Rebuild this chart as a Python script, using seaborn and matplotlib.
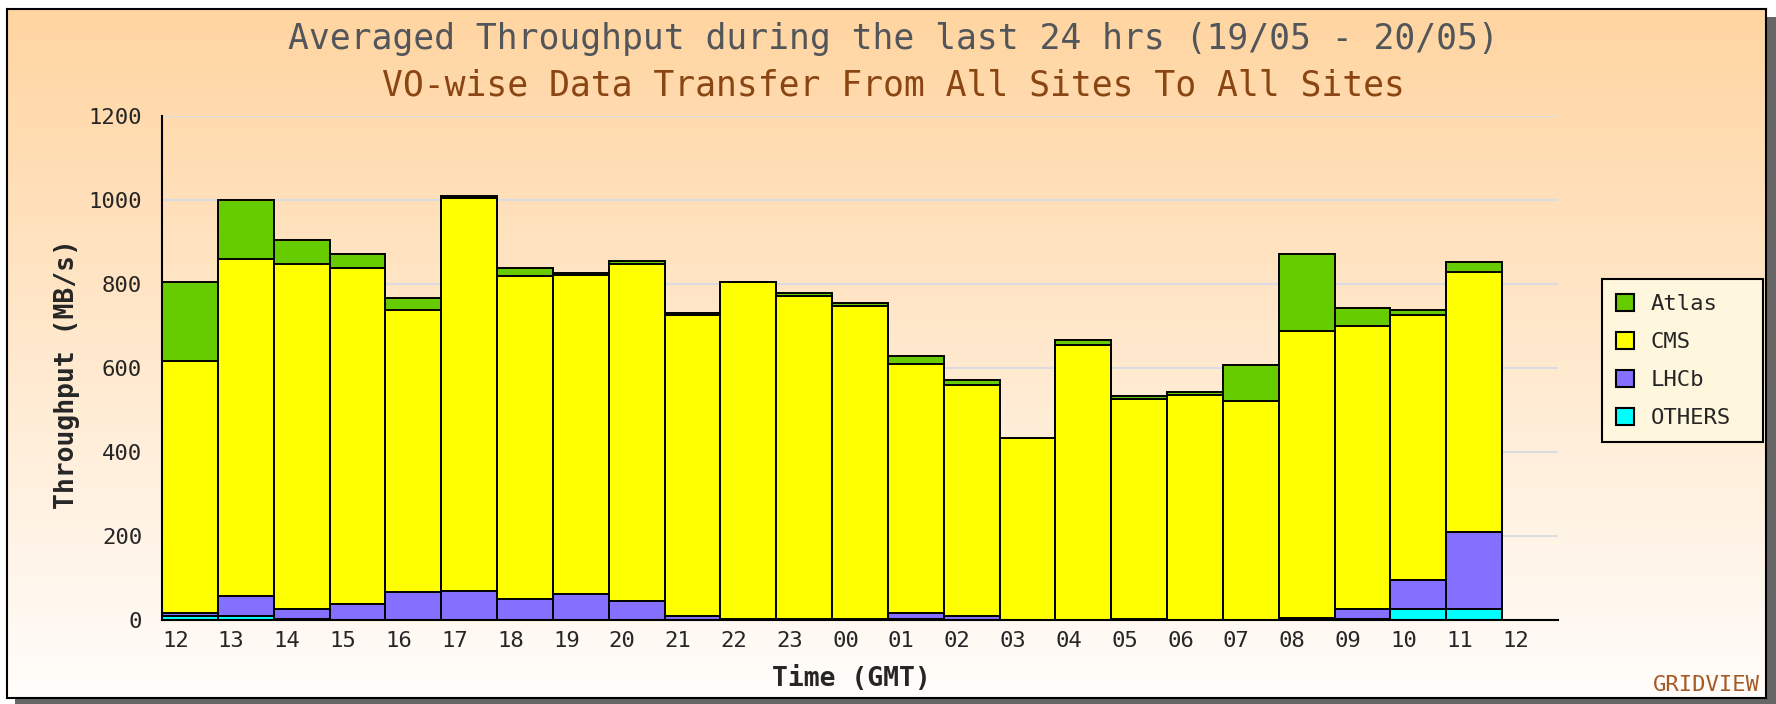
import numpy as np
import matplotlib.pyplot as plt
import matplotlib.patches as mpatches
import pandas as pd
import seaborn as sns

# hourly throughput per VO (MB/s), 19/05 12h -> 20/05 11h
hours = ['12', '13', '14', '15', '16', '17', '18', '19', '20', '21', '22', '23',
         '00', '01', '02', '03', '04', '05', '06', '07', '08', '09', '10', '11']
atlas = [188, 140, 56, 32, 29, 5, 20, 5, 7, 5, 0, 7,
         7, 18, 12, 0, 12, 6, 7, 85, 184, 43, 11, 26]
cms = [600, 804, 822, 801, 672, 935, 768, 759, 803, 716, 801, 768,
       746, 594, 551, 432, 655, 523, 535, 521, 683, 675, 632, 618]
lhcb = [6, 47, 24, 37, 66, 70, 50, 62, 45, 9, 3, 2,
        2, 14, 9, 0, 0, 3, 1, 0, 3, 22, 69, 184]
others = [10, 9, 2, 0, 0, 0, 0, 0, 0, 1, 0, 0,
          0, 2, 0, 0, 0, 0, 0, 0, 1, 3, 25, 25]

vo_names = ['Atlas', 'CMS', 'LHCb', 'OTHERS']
vo_colors = ['#66cc00', '#ffff00', '#8470ff', '#00ffff']
x_labels = hours + ['12']
y_ticks = list(range(0, 1201, 200))

df = pd.DataFrame({'hour': hours, 'Atlas': atlas, 'CMS': cms, 'LHCb': lhcb, 'OTHERS': others})
# cumulative tops for stacking (bottom: OTHERS, top: Atlas)
df['OTHERS_top'] = df['OTHERS']
df['LHCb_top'] = df['OTHERS_top'] + df['LHCb']
df['CMS_top'] = df['LHCb_top'] + df['CMS']
df['Atlas_top'] = df['CMS_top'] + df['Atlas']

sns.set_style('white')
plt.rcParams['font.family'] = ['DejaVu Sans Mono']

W, H = 1776, 704
fig = plt.figure(figsize=(W / 100, H / 100), dpi=100)

# drop shadow + gradient panel
fig.patches.append(mpatches.Rectangle((15 / W, 0), 1, (H - 17) / H, transform=fig.transFigure,
                                      facecolor='#666666', edgecolor='none', zorder=-1))
bg = fig.add_axes([7 / W, 6 / H, 1759 / W, 689 / H], zorder=0)
t = np.linspace(0, 1, 256)[:, None]
top_c = np.array([1.0, 0.835, 0.63])
bot_c = np.array([1.0, 0.993, 0.985])
grad = (1 - t)[:, :, None] * top_c + t[:, :, None] * bot_c
grad = np.repeat(grad, 2, axis=1)
bg.imshow(grad, aspect='auto', extent=[0, 1, 0, 1])
bg.set_xticks([])
bg.set_yticks([])
for s in bg.spines.values():
    s.set_color('black')
    s.set_linewidth(1.5)

ax = fig.add_axes([162 / W, (H - 620) / H, 1396 / W, 504.3 / H], zorder=1)
ax.set_facecolor('none')

for name, color in zip(vo_names, vo_colors):
    sns.barplot(data=df, x='hour', y=name + '_top', order=hours, color=color, width=1,
                saturation=1, edgecolor='black', linewidth=1.4, errorbar=None, ax=ax)

ax.set_xlim(-0.5, 24.5)
ax.set_ylim(0, 1200)
ax.set_xticks(np.arange(25) - 0.5)
ax.set_xticklabels(x_labels, ha='left')
ax.set_xticks([24.5], minor=True)
ax.tick_params(axis='x', which='major', length=0, pad=8, labelsize=16)
ax.tick_params(axis='x', which='minor', direction='in', length=8.6, width=1.5)
ax.set_yticks(y_ticks)
ax.set_yticklabels([str(v) for v in y_ticks])
ax.set_yticks(list(range(100, 1200, 200)), minor=True)
ax.tick_params(axis='y', which='major', direction='in', length=8.6, width=1.5, pad=14.4, labelsize=16)
ax.tick_params(axis='y', which='minor', direction='in', length=5.8, width=1.5)

ax.grid(axis='y', which='major', color='#dadce2', linewidth=1.5)
ax.set_axisbelow(True)
for side in ['top', 'right']:
    ax.spines[side].set_visible(False)
for side in ['left', 'bottom']:
    ax.spines[side].set_color('black')
    ax.spines[side].set_linewidth(1.5)

ax.set_xlabel('Time (GMT)', fontsize=19, fontweight='bold')
ax.set_ylabel('Throughput (MB/s)', fontsize=19, fontweight='bold')
ax.xaxis.set_label_coords(0.4936, -0.1176)
ax.xaxis.label.set_va('center')
ax.yaxis.set_label_coords(-0.068, 0.488)
ax.yaxis.label.set_va('center')

handles = [mpatches.Patch(facecolor=c, edgecolor='black', linewidth=1.5, label=n)
           for n, c in zip(vo_names, vo_colors)]
leg = ax.legend(handles=handles, loc='upper left', bbox_to_anchor=(0.9019, 0.3703, 0.0907, 0.233),
                bbox_transform=fig.transFigure, mode='expand', borderaxespad=0, fontsize=16,
                handlelength=0.8, handleheight=0.8, handletextpad=0.75, labelspacing=0.8,
                borderpad=0.65, fancybox=False, framealpha=1, facecolor='#fff6de', edgecolor='black')
leg.get_frame().set_linewidth(1.5)

fig.text(893 / W, 1 - 39 / H, 'Averaged Throughput during the last 24 hrs (19/05 - 20/05)',
         ha='center', va='center', fontsize=25, color='#52565a')
fig.text(893 / W, 1 - 85 / H, 'VO-wise Data Transfer From All Sites To All Sites',
         ha='center', va='center', fontsize=25, color='#8b4513')
fig.text(1760 / W, 1 - 685 / H, 'GRIDVIEW', ha='right', va='center', fontsize=16, color='#a65a28')

plt.savefig('out.png', dpi=100)
